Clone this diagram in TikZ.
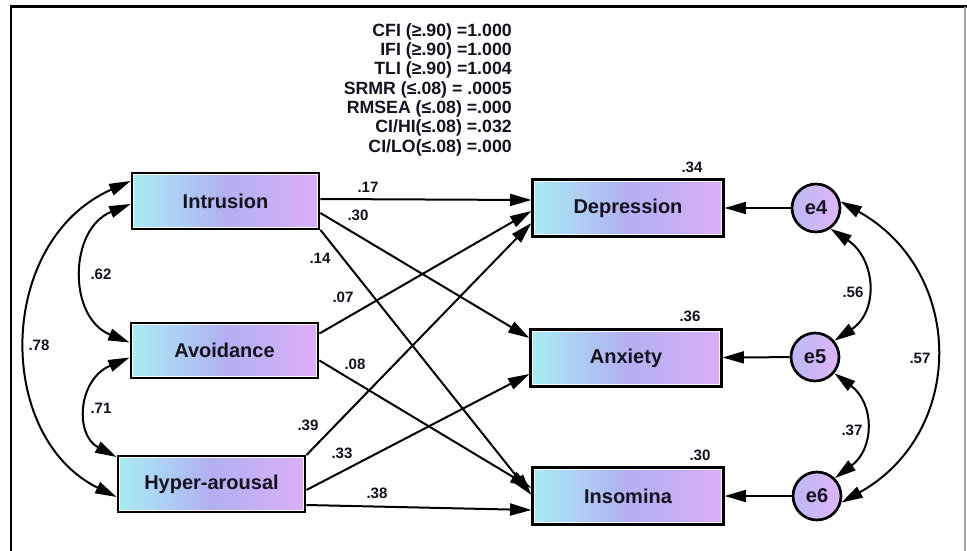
\documentclass[tikz,border=0pt]{standalone}
\usepackage{fontspec}
\setmainfont{Liberation Sans}
\usetikzlibrary{arrows.meta,calc}

\definecolor{boxL}{HTML}{A8ECF2}
\definecolor{boxM}{HTML}{B2B0F2}
\definecolor{boxR}{HTML}{DBAEF8}
\definecolor{errL}{HTML}{BDB8F4}
\definecolor{errR}{HTML}{DEB4F8}
\definecolor{ink}{HTML}{15121F}

\tikzset{
  obsbox/.style={draw=black, line width=2.4pt, left color=boxL, right color=boxR,
    middle color=boxM, inner sep=0pt, text=ink,
    font=\fontsize{15}{18}\selectfont\bfseries},
  leftbox/.style={obsbox, minimum width=140pt, minimum height=41pt},
  rightbox/.style={obsbox, minimum width=142.5pt, minimum height=42pt},
  errnode/.style={circle, draw=black, line width=2pt, left color=errL, right color=errR,
    minimum size=36pt, inner sep=0pt, text=ink,
    font=\fontsize{15}{18}\selectfont\bfseries},
  head/.tip={Triangle[length=16pt,width=9pt]},
  reg/.style={-head, line width=1.5pt},
  cov/.style={head-head, line width=1.5pt},
  coef/.style={inner sep=0pt, text=ink, font=\fontsize{11.3}{13}\selectfont\bfseries},
}

\begin{document}
\begin{tikzpicture}[x=0.75pt,y=-0.75pt]
\useasboundingbox (0,0) rectangle (967,550);
\fill[white] (0,0) rectangle (967,550);

% frame
\draw[line width=1.6pt] (11,551) -- (11,6.5) -- (967,6.5);
\draw[black!35, line width=0.8pt] (965,7) -- (965,551);

% fit statistics
\node[anchor=north east, align=right, inner sep=0pt, text=ink,
      font=\fontsize{13.3}{14.5}\selectfont\bfseries] (fit) at (512,23)
  {CFI (≥.90) =1.000\\IFI (≥.90) =1.000\\TLI (≥.90) =1.004\\SRMR (≤.08) = .0005\\
   RMSEA (≤.08) =.000\\CI/HI(≤.08) =.032\\CI/LO(≤.08) =.000};

% exogenous variables
\node[leftbox] (intr) at (225.5,201) {Intrusion};
\node[leftbox] (avoid) at (224.5,350.5) {Avoidance};
\node[leftbox] (hyper) at (211.5,484) {Hyper-arousal};

% endogenous variables
\node[rightbox] (dep) at (628,208) {Depression};
\node[rightbox] (anx) at (626,358) {Anxiety};
\node[rightbox] (ins) at (628,496) {Insomina};

% thin light inner edge of every box
\foreach \n in {intr,avoid,hyper,dep,anx,ins}
  \draw[white!85!pink, line width=0.7pt]
    ([shift={(2.1pt,-2.1pt)}]\n.north west) rectangle ([shift={(-2.1pt,2.1pt)}]\n.south east);

% error terms
\node[errnode] (e4) at (816,208) {e4};
\node[errnode] (e5) at (815,357) {e5};
\node[errnode] (e6) at (817,496) {e6};

% structural paths
\draw[reg] ($(intr.east)+(0,-2)$) -- ($(dep.west)+(0,-8)$);
\draw[reg] ($(intr.east)+(0,12)$) -- ($(anx.west)+(0,-20)$);
\draw[reg] (intr.south east) -- ($(ins.west)+(0,-1)$);
\draw[reg] ($(avoid.east)+(0,-17)$) -- ($(dep.west)+(0,3)$);
\draw[reg] ($(avoid.east)+(0,10)$) -- ($(ins.west)+(0,-8)$);
\draw[reg] (hyper.north east) -- ($(dep.west)+(0,15)$);
\draw[reg] ($(hyper.east)+(0,6)$) -- ($(anx.west)+(0,16)$);
\draw[reg] ($(hyper.east)+(0,21)$) -- ($(ins.west)+(0,14)$);

% residual paths
\draw[reg] (e4) -- (dep);
\draw[reg] (e5) -- (anx);
\draw[reg] (e6) -- (ins);

% covariances among exogenous variables
\draw[cov] ($(intr.west)+(0,3)$) .. controls +(-62,25) and +(-62,-25) .. ($(avoid.west)+(0,-8)$);
\draw[cov] ($(avoid.west)+(0,7)$) .. controls +(-52,22) and +(-42,-22) .. ($(hyper.west)+(0,-27)$);
\draw[cov] ($(intr.west)+(0,-20)$) .. controls +(-135,60) and +(-122,-60) .. ($(hyper.west)+(0,13)$);

% covariances among error terms
\draw[cov] (e4.-55) .. controls +(45,30) and +(45,-30) .. (e5.40);
\draw[cov] (e5.-40) .. controls +(40,30) and +(40,-30) .. (e6.45);
\draw[cov] (e4.15) .. controls +(125,70) and +(125,-70) .. (e6.-15);

% coefficients
\node[coef] (c17) at (368,187) {.17};
\node[coef] (c30a) at (358,215) {.30};
\node[coef] (c14) at (320,258) {.14};
\node[coef] (c07) at (343,297) {.07};
\node[coef] (c08) at (355,364) {.08};
\node[coef] (c39) at (308,425) {.39};
\node[coef] (c33) at (342,453) {.33};
\node[coef] (c38) at (377,493) {.38};
\node[coef] (c62) at (101,274) {.62};
\node[coef] (c78) at (39,345) {.78};
\node[coef] (c71) at (101,408) {.71};
\node[coef] (c56) at (853,292) {.56};
\node[coef] (c57) at (920,358) {.57};
\node[coef] (c37) at (852,430) {.37};
\node[coef] (r34) at (692,167) {.34};
\node[coef] (r36) at (690,316) {.36};
\node[coef] (r30) at (700,455) {.30};
\end{tikzpicture}
\end{document}
